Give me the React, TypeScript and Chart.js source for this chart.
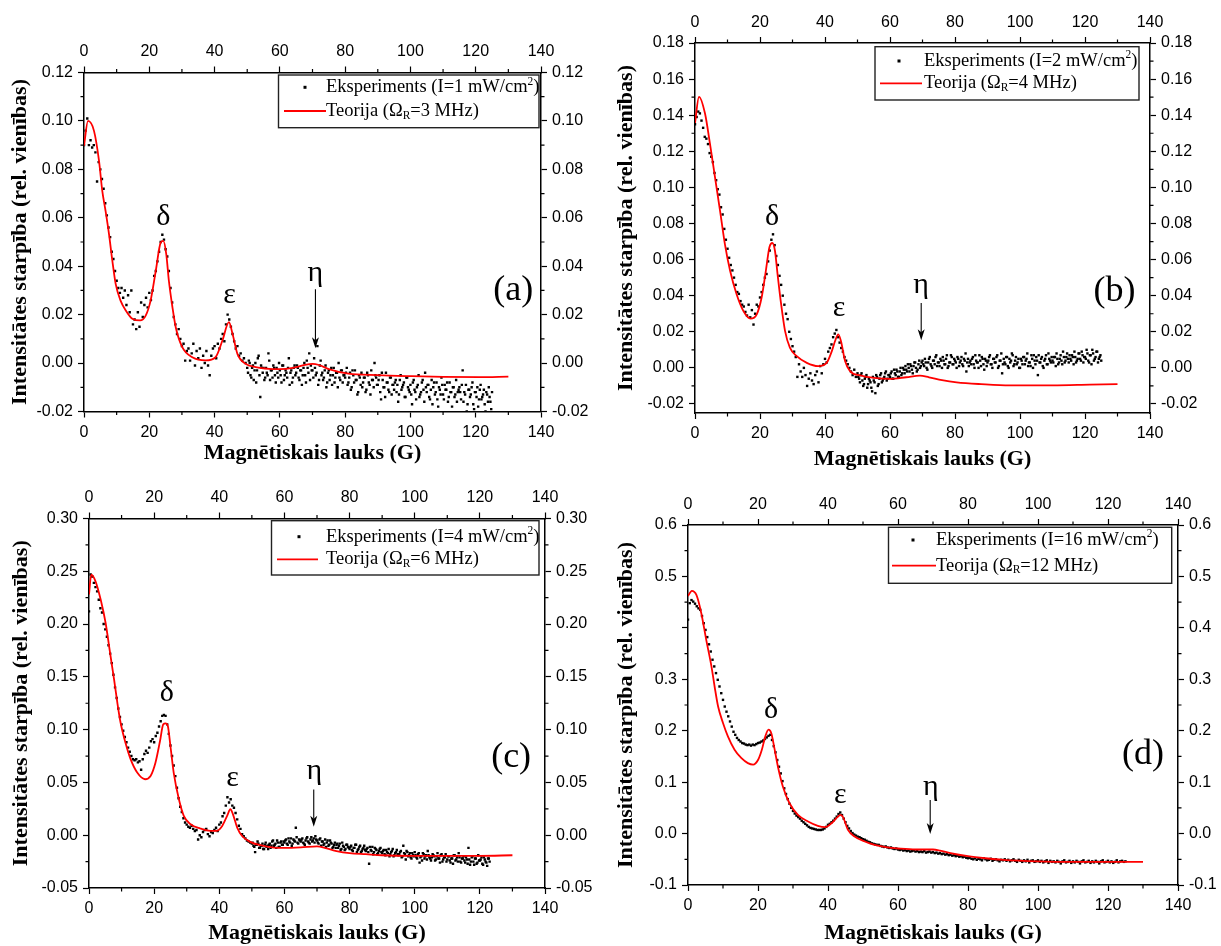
import React, { useEffect, useRef } from "react";
import { Chart, registerables } from "chart.js";

Chart.register(...registerables);

// ---------- shared axis data ----------
const FIELD_STEP = 0.5; // G between successive measured points
const SECOND_START = 50.25; // G of the first point of the interleaved second sweep
const xTickValues = [0, 20, 40, 60, 80, 100, 120, 140];
const xMinorValues = [10, 30, 50, 70, 90, 110, 130];

// ---------- panel (a): I = 1 mW/cm2, values in 1e-3 units ----------
const expA = [
  90, 96, 101, 90, 92, 89, 90, 87, 75, 83,
  80, 76, 72, 66, 61, 56, 52, 46, 43, 38,
  34, 31, 29, 31, 27, 30, 24, 28, 21, 30,
  16, 18, 14, 21, 15, 25, 19, 24, 27, 23,
  29, 26, 30, 36, 38, 42, 46, 50, 53, 51,
  47, 44, 38, 31, 25, 19, 16, 12, 14, 10,
  7, 8, 1, 5, 6, 1, 4, 8, -1, 5,
  2, 6, -2, 3, 0, 5, -1, -5, 3, 6,
  7, 2, 8, 6, 10, 12, 9, 16, 20, 18,
  15, 12, 9, 6, 7, 3, 4, 1, 2, 0,
  -2, 1, -5, -2, -7, 0, -3, 3, -14, -2,
  -2, -6, -4, 4, -7, -3, -1, -5, -2, -6,
  -3, -8, -1, -5, -4, -2, -9, -3, -6, -1,
  -4, -2, -7, -3, -5, 0, -8, -2, 4, -1,
  -3, 2, -5, 7, -7, 1, -4, -6, -1, -8,
  -3, -5, -9, -2, -6, -4, 0, -7, -3, -5,
  -6, -2, -8, -4, -10, -5, -3, -7, -12, -6,
  -4, -8, -6, -11, -5, -9, -3, -7, 0, -6,
  -9, -5, -15, -7, -10, -4, -8, -12, -6, -9,
  -11, -7, -9, -13, -5, -10, -8, -14, -6, -11,
  -9, -17, -7, -12, -10, -5, -13, -8, -11, -4,
  -12, -9, -15, -7, -10, -13, -8, -18, -11, -6,
  -13, -9, -11, -16, -8, -12, -10, -14, -7, -12,
  -10, -15, -3, -12, -9, -17, -11, -13, -8, -19,
  -12, -10, -15, -9, -14, -11, -20, -13, -10, -16,
  -12,
];
const expA2 = [
  -4, 0, -6, -1, -3, -8, 2, -5, -1, -4,
  -7, -2, -5, 1, -3, -6, -2, -8, -4, 0,
  -5, -1, -7, -3, -6, 2, -4, -8, -2, -5,
  -1, -6, -3, -9, -2, -5, 1, -4, -7, -3,
  -6, -2, -4, -9, -1, -5, -7, -3, -10, -4,
  -7, -2, -5, -8, -4, -10, -6, -3, -8, -5,
  -4, -9, -6, -11, -3, -8, -7, -13, -5, -9,
  -10, -6, -12, -4, -8, -13, -7, -10, -5, -9,
  -7, -12, -4, -10, -14, -8, -11, -6, -13, -9,
  -8, -12, -16, -7, -11, -9, -14, -6, -10, -12,
  -13, -8, -11, -15, -9, -14, -12, -7, -16, -10,
  -9, -14, -11, -17, -8, -12, -15, -10, -13, -9,
  -15, -11, -8, -14, -12, -18, -10, -13, -16, -11,
  -12, -9, -16, -13, -20, -11, -14, -10, -17, -12,
  -14, -18, -11, -15, -13, -17, -12, -16, -14, -19,
];
const theoryAx = [0, 1.23, 3.06, 4.6, 5.6, 6.6, 7.66, 8.68, 9.7, 11.2, 12.8, 14.8, 17.2, 18.9, 20.4, 22, 23.5, 24.3, 25.2, 26, 27.1, 28.1, 30.1, 33.2, 37.3, 40.3, 42.4, 44.4, 45.5, 47, 49.5, 52.6, 56.7, 60, 64, 67, 70, 72, 75, 81, 90, 100, 110, 121, 130];
const theoryAy = [0.0897, 0.1, 0.0959, 0.0835, 0.0711, 0.0629, 0.0533, 0.0423, 0.0327, 0.0258, 0.0217, 0.0183, 0.0176, 0.0196, 0.0258, 0.0382, 0.0498, 0.0505, 0.045, 0.034, 0.023, 0.0148, 0.0066, 0.0024, 0.0011, 0.0024, 0.0093, 0.0169, 0.0121, 0.0038, -0.0003, -0.0017, -0.0024, -0.0025, -0.002, -0.001, -0.0003, -0.0008, -0.0025, -0.0044, -0.005, -0.0054, -0.0057, -0.0058, -0.0056];
const yTicksA = [-0.02, 0, 0.02, 0.04, 0.06, 0.08, 0.1, 0.12];
const yMinorA = [-0.01, 0.01, 0.03, 0.05, 0.07, 0.09, 0.11];

// ---------- panel (b): I = 2 mW/cm2 ----------
const expB = [
  135, 139, 142, 141, 137, 133, 128, 127, 124, 119,
  117, 114, 108, 104, 99, 96, 89, 85, 77, 71,
  66, 61, 57, 54, 50, 46, 42, 41, 37, 35,
  34, 31, 29, 35, 28, 32, 24, 30, 35, 34,
  39, 42, 46, 50, 52, 59, 65, 71, 74, 68,
  62, 57, 51, 46, 40, 35, 30, 27, 20, 16,
  12, 9, 6, -5, 2, -2, -5, 0, -4, -10,
  -6, -3, -7, -9, -4, -2, -8, 1, -3, 2,
  5, 3, 9, 11, 13, 17, 19, 21, 17, 14,
  11, 9, 6, 4, 2, 0, -2, -4, -1, -5,
  -3, -6, -4, -7, -9, -5, -11, -6, -8, -13,
  -7, -14, -5, -9, -4, -8, -6, -3, -7, -4,
  -5, -2, -6, -3, -1, -5, -2, -4, 0, -3,
  -1, 2, -2, 1, -3, 3, 0, -1, 4, 1,
  4, 1, 3, -1, 5, 2, 0, 4, 6, 1,
  3, 5, 0, 4, 2, 7, 1, 3, 6, 2,
  4, 0, 5, 3, 6, 1, 4, -2, 5, 3,
  2, 6, 0, 4, 3, 7, 1, 5, -1, 4,
  3, 6, 2, 0, 5, 3, 7, 1, 4, -3,
  5, 2, 6, 0, 3, 8, 1, 4, 2, 5,
  0, 4, 6, 2, 5, 1, 3, 7, 0, 4,
  6, -4, 3, 5, 1, 4, 7, 2, 5, 3,
  4, 6, 1, 5, 3, 7, 2, 6, 4, 8,
  3, 5, 7, 2, 6, 4, 8, 5, 9, 3,
  6, 10, 4, 7, 2, 8, 5, 9, 3, 6,
  4,
];
const expB2 = [
  -5, -8, -3, -10, -6, -4, -9, -7, -11, -5,
  -8, -4, -10, -6, -3, -7, -5, -2, -6, -4,
  -3, -6, -1, -4, -2, -5, 0, -3, -1, 1,
  -2, 0, 2, -1, 1, 3, -2, 2, 0, 3,
  2, 5, 0, 3, 6, 1, 4, 2, 7, 3,
  1, 4, 6, 2, 5, 0, 3, 7, 2, 5,
  3, 6, 1, 4, 2, 5, 8, 3, 1, 4,
  5, 2, 7, 3, 0, 4, 6, 2, 5, 1,
  4, 7, 2, 5, 3, 6, 0, 4, 8, 2,
  3, 6, 1, 5, 4, 7, 2, 6, 3, 0,
  5, 2, 6, 4, 8, 3, 1, 5, 7, 2,
  4, 7, 3, 6, 0, 5, 2, 8, 4, 6,
  3, 6, 8, 2, 5, 4, 9, 3, 6, 5,
  7, 4, 6, 9, 3, 5, 8, 4, 7, 6,
  5, 8, 3, 7, 10, 4, 6, 9, 5, 7,
];
const theoryBx = [0, 1.23, 3.08, 4.6, 6.15, 7.7, 9.2, 10.8, 12.8, 14.9, 17.1, 19, 20.5, 21.8, 22.9, 23.8, 24.6, 25.4, 26.5, 27.7, 29.2, 31.3, 34.4, 37.9, 40.5, 42.1, 43.1, 44.1, 44.9, 46.2, 47.7, 50.8, 55, 60, 65, 69.2, 72, 76, 80.5, 88, 96.9, 110, 121.5, 130];
const theoryBy = [0.1357, 0.1502, 0.1409, 0.1242, 0.1057, 0.0871, 0.0686, 0.0538, 0.0408, 0.0315, 0.0273, 0.0297, 0.039, 0.0538, 0.0668, 0.0692, 0.0649, 0.052, 0.0353, 0.0205, 0.0112, 0.0065, 0.0028, 0.001, 0.0028, 0.0093, 0.0149, 0.0186, 0.0149, 0.0037, -0.0018, -0.0042, -0.0055, -0.0061, -0.0052, -0.0043, -0.0052, -0.0068, -0.008, -0.009, -0.0097, -0.0097, -0.0093, -0.009];
const yTicksB = [-0.02, 0, 0.02, 0.04, 0.06, 0.08, 0.1, 0.12, 0.14, 0.16, 0.18];
const yMinorB = [-0.01, 0.01, 0.03, 0.05, 0.07, 0.09, 0.11, 0.13, 0.15, 0.17];

// ---------- panel (c): I = 4 mW/cm2 ----------
const expC = [
  212, 247, 245, 239, 235, 231, 223, 215, 211, 200,
  195, 188, 180, 172, 163, 152, 140, 130, 120, 112,
  105, 99, 93, 88, 83, 79, 75, 72, 71, 72,
  69, 70, 62, 72, 77, 80, 78, 83, 89, 91,
  88, 94, 97, 103, 108, 113, 114, 113, 105, 96,
  85, 75, 66, 56, 45, 35, 27, 22, 16, 12,
  10, 8, 7, 9, 6, 4, 5, -4, 0, -2,
  3, 5, 6, 1, -1, 3, 2, 5, 7, 4,
  10, 12, 18, 21, 28, 36, 31, 34, 28, 26,
  21, 15, 9, 6, 1, -1, -3, -5, -6, -7,
  -8, -10, -16, -9, -8, -12, -10, -13, -9, -11,
  -13, -8, -10, -5, -9, -12, -7, -11, -6, -9,
  -7, -4, -9, -6, -3, -8, -5, 7, -7, -4,
  -6, -3, -8, -5, -2, -7, -4, -6, -3, -1,
  -5, -8, -3, -6, -9, -4, -7, -10, -5, -8,
  -11, -7, -9, -12, -8, -13, -10, -14, -9, -11,
  -13, -10, -15, -12, -9, -14, -11, -16, -13, -10,
  -15, -12, -27, -14, -11, -16, -13, -18, -15, -12,
  -17, -14, -19, -16, -13, -18, -15, -20, -17, -14,
  -19, -16, -21, -10, -18, -15, -20, -17, -22, -19,
  -16, -21, -18, -26, -20, -17, -22, -19, -15, -21,
  -24, -18, -20, -23, -17, -22, -19, -25, -21, -18,
  -23, -20, -26, -22, -19, -24, -21, -17, -25, -22,
  -20, -26, -23, -12, -28, -21, -25, -22, -27, -19,
  -24, -21, -28, -23, -26, -22, -25,
];
const expC2 = [
  -7, -11, -9, -6, -12, -10, -8, -13, -7, -10,
  -9, -12, -6, -10, -8, -5, -11, -7, -9, -6,
  -5, -8, -3, -7, -10, -4, -6, -2, -8, -5,
  -4, -7, -9, -3, -6, -8, -2, -5, -7, -4,
  -7, -4, -10, -6, -8, -11, -5, -9, -7, -12,
  -9, -12, -8, -10, -14, -7, -11, -13, -9, -12,
  -11, -14, -12, -9, -16, -13, -10, -15, -12, -14,
  -13, -16, -11, -15, -18, -12, -14, -17, -13, -16,
  -15, -18, -14, -17, -20, -16, -13, -19, -16, -18,
  -18, -15, -20, -17, -23, -16, -19, -21, -17, -20,
  -19, -22, -17, -21, -24, -18, -20, -23, -19, -22,
  -21, -19, -24, -20, -22, -26, -18, -23, -21, -25,
  -20, -24, -22, -27, -19, -23, -25, -21, -26, -22,
  -24, -21, -27, -23, -25, -20, -28, -22, -26, -24,
  -23, -27, -21, -25, -29, -22,
];
const theoryCx = [0, 0.7, 2, 3.6, 5.1, 6.6, 7.7, 8.7, 9.7, 11.2, 12.8, 14.8, 17.2, 18.9, 20.4, 21.8, 22.8, 23.5, 24.2, 25, 26, 27.6, 29.1, 31.2, 34.2, 37.3, 39.1, 40.9, 42.4, 43.4, 44.2, 45.5, 47, 49.5, 52.6, 56.7, 60, 65, 70, 73, 76, 80, 85, 90, 100, 110, 120, 130];
const theoryCy = [0.228, 0.2468, 0.2405, 0.223, 0.201, 0.17, 0.1475, 0.1255, 0.1065, 0.0876, 0.0718, 0.0593, 0.053, 0.0561, 0.0687, 0.0892, 0.105, 0.1059, 0.1034, 0.0845, 0.0593, 0.034, 0.0183, 0.0104, 0.0063, 0.0041, 0.0041, 0.0088, 0.0183, 0.0246, 0.0198, 0.0072, -0.0007, -0.0063, -0.0095, -0.0117, -0.012, -0.0115, -0.0105, -0.0125, -0.015, -0.017, -0.018, -0.019, -0.0195, -0.0195, -0.0195, -0.019];
const yTicksC = [-0.05, 0, 0.05, 0.1, 0.15, 0.2, 0.25, 0.3];
const yMinorC = [-0.025, 0.025, 0.075, 0.125, 0.175, 0.225, 0.275];

// ---------- panel (d): I = 16 mW/cm2 ----------
const expD = [
  416, 448, 454, 451, 447, 442, 438, 435, 423, 409,
  396, 382, 368, 354, 338, 325, 312, 299, 286, 273,
  260, 247, 237, 228, 218, 208, 198, 192, 186, 182,
  179, 176, 175, 173, 172, 173, 171, 173, 172, 174,
  176, 177, 179, 181, 184, 187, 190, 192, 182, 170,
  158, 143, 130, 117, 102, 88, 77, 67, 58, 50,
  44, 39, 35, 32, 29, 25, 22, 19, 16, 13,
  11, 10, 9, 8, 7, 7, 7, 8, 10, 13,
  17, 19, 22, 25, 29, 33, 38, 41, 36, 29,
  22, 15, 10, 5, 1, -2, -4, -6, -7, -9,
  -11, -12, -14, -16, -17, -19, -20, -21, -22, -22,
  -24, -25, -26, -25, -27, -28, -27, -29, -30, -29,
  -31, -32, -31, -33, -32, -34, -33, -35, -34, -33,
  -35, -34, -36, -35, -36, -34, -37, -36, -35, -37,
  -36, -38, -37, -39, -38, -40, -39, -41, -40, -42,
  -41, -43, -42, -44, -43, -45, -44, -46, -45, -47,
  -48, -47, -49, -50, -48, -51, -49, -50, -52, -48,
  -50, -52, -51, -49, -53, -51, -50, -52, -54, -51,
  -52, -50, -53, -51, -54, -52, -50, -53, -55, -51,
  -53, -55, -52, -54, -51, -56, -53, -52, -55, -54,
  -52, -55, -53, -56, -54, -52, -57, -53, -55, -54,
  -56, -53, -55, -58, -54, -52, -56, -55, -53, -57,
  -54, -56, -53, -55, -58, -54, -52, -56, -55, -53,
  -57, -54, -56, -53, -55, -58, -54, -52, -56, -55,
  -53, -56, -54, -57, -55, -52, -56, -54, -53, -55,
  -54,
];
const expD2: number[] = [];
const theoryDx = [0, 1.1, 2.4, 3.8, 5.2, 6.7, 7.6, 8.6, 10, 11.4, 13.3, 15.2, 17.1, 18.6, 20, 21.1, 22.1, 23, 23.8, 24.6, 25.7, 27.1, 29, 31.4, 34.3, 37.1, 39.2, 41, 42.7, 43.6, 44.3, 45.7, 47.6, 50.5, 53.3, 57, 60, 65, 70, 72, 75, 80, 85, 90, 100, 110, 120, 130];
const theoryDy = [0.462, 0.472, 0.464, 0.4285, 0.377, 0.325, 0.286, 0.247, 0.215, 0.189, 0.163, 0.147, 0.137, 0.134, 0.143, 0.163, 0.189, 0.202, 0.195, 0.169, 0.13, 0.0915, 0.059, 0.0365, 0.0235, 0.015, 0.0125, 0.02, 0.032, 0.0365, 0.032, 0.0073, -0.0057, -0.0154, -0.022, -0.027, -0.029, -0.031, -0.031, -0.033, -0.038, -0.044, -0.048, -0.051, -0.054, -0.055, -0.055, -0.055];
const yTicksD = [-0.1, 0, 0.1, 0.2, 0.3, 0.4, 0.5, 0.6];
const yMinorD = [-0.05, 0.05, 0.15, 0.25, 0.35, 0.45, 0.55];
const yHiddenLeftD = [0.4];

// ---------- texts ----------
const Y_TITLE = "Intensitātes starpība (rel. vienības)";
const X_TITLE = "Magnētiskais lauks (G)";

type Seg = { t: string; sup?: boolean; sub?: boolean };
const expLegend = (i: string): Seg[] => [{ t: `Eksperiments (I=${i} mW/cm` }, { t: "2", sup: true }, { t: ")" }];
const thLegend = (o: string): Seg[] => [{ t: "Teorija (Ω" }, { t: "R", sub: true }, { t: `=${o} MHz)` }];

const SERIF = '"Liberation Serif", "Times New Roman", serif';
const SANS = '"Liberation Sans", Arial, sans-serif';

const panels = [
  {
    id: "a", tag: "(a)", exp: expA, exp2: expA2, thx: theoryAx, thy: theoryAy,
    yMin: -0.02, yMax: 0.12, yTicks: yTicksA, yMinor: yMinorA, dec: 2, hiddenLeft: [] as number[],
    leg1: expLegend("1"), leg2: thLegend("3"),
    marks: [{ t: "δ", x: 24.3, y: 0.057 }, { t: "ε", x: 44.6, y: 0.025 }, { t: "η", x: 70.9, y: 0.034 }],
    arrow: { x: 70.9, y0: 0.0305, y1: 0.0061 }, tagPos: { x: 131.5, y: 0.0262 },
    box: { x: 0, y: 0, w: 610, h: 470 }, axes: { l: 84, r: 69, t: 72.5, b: 58.5 }, yTitlePad: 9, xTitlePad: 6,
    legend: { w: 260.5, h: 52.7, rightGap: 2, topGap: 2.5, dotX: 26.5, textX: 47.5, row1: 12.3, row2: 36, lineX0: 5.5, lineX1: 47.5 },
  },
  {
    id: "b", tag: "(b)", exp: expB, exp2: expB2, thx: theoryBx, thy: theoryBy,
    yMin: -0.025, yMax: 0.18, yTicks: yTicksB, yMinor: yMinorB, dec: 2, hiddenLeft: [] as number[],
    leg1: expLegend("2"), leg2: thLegend("4"),
    marks: [{ t: "δ", x: 23.7, y: 0.0793 }, { t: "ε", x: 44.3, y: 0.0286 }, { t: "η", x: 69.6, y: 0.0416 }],
    arrow: { x: 69.6, y0: 0.036, y1: 0.0153 }, tagPos: { x: 129.1, y: 0.0373 },
    box: { x: 610, y: 0, w: 611, h: 470 }, axes: { l: 85, r: 71, t: 43, b: 57 }, yTitlePad: 5, xTitlePad: 0,
    legend: { w: 264, h: 53.3, rightGap: 11, topGap: 3.7, dotX: 24, textX: 49, row1: 14.3, row2: 36.6, lineX0: 5, lineX1: 47 },
  },
  {
    id: "c", tag: "(c)", exp: expC, exp2: expC2, thx: theoryCx, thy: theoryCy,
    yMin: -0.05, yMax: 0.3, yTicks: yTicksC, yMinor: yMinorC, dec: 2, hiddenLeft: [] as number[],
    leg1: expLegend("4"), leg2: thLegend("6"),
    marks: [{ t: "δ", x: 23.9, y: 0.127 }, { t: "ε", x: 44.1, y: 0.0465 }, { t: "η", x: 69.2, y: 0.0528 }],
    arrow: { x: 69.0, y0: 0.0434, y1: 0.0081 }, tagPos: { x: 129.6, y: 0.0642 },
    box: { x: 0, y: 470, w: 610, h: 476 }, axes: { l: 89, r: 65, t: 48.5, b: 58 }, yTitlePad: 10, xTitlePad: 2,
    legend: { w: 267.5, h: 54.3, rightGap: 6, topGap: 2.2, dotX: 27.5, textX: 54.5, row1: 16, row2: 38.6, lineX0: 5.5, lineX1: 46.5 },
  },
  {
    id: "d", tag: "(d)", exp: expD, exp2: expD2, thx: theoryDx, thy: theoryDy,
    yMin: -0.1, yMax: 0.6, yTicks: yTicksD, yMinor: yMinorD, dec: 1, hiddenLeft: yHiddenLeftD,
    leg1: expLegend("16"), leg2: thLegend("12"),
    marks: [{ t: "δ", x: 23.7, y: 0.224 }, { t: "ε", x: 43.5, y: 0.0589 }, { t: "η", x: 69.4, y: 0.075 }],
    arrow: { x: 69.2, y0: 0.0653, y1: -0.0008 }, tagPos: { x: 130, y: 0.135 },
    box: { x: 610, y: 470, w: 611, h: 476 }, axes: { l: 78, r: 43, t: 55, b: 61 }, yTitlePad: 5, xTitlePad: 2,
    legend: { w: 283.2, h: 56, rightGap: 6.3, topGap: 2.3, dotX: 24.5, textX: 47.5, row1: 12.7, row2: 38.4, lineX0: 3.5, lineX1: 47.5 },
  },
];

type Panel = (typeof panels)[number];

function drawRich(ctx: CanvasRenderingContext2D, segs: Seg[], x: number, y: number, size: number) {
  let cx = x;
  for (const s of segs) {
    const fs = s.sup || s.sub ? size * 0.62 : size;
    ctx.font = `${fs}px ${SERIF}`;
    const dy = s.sup ? -size * 0.3 : s.sub ? size * 0.25 : 0;
    ctx.fillText(s.t, cx, y + dy);
    cx += ctx.measureText(s.t).width;
  }
}

function makeDecor(p: Panel) {
  return {
    id: "decor_" + p.id,
    afterDraw(chart: any) {
      const ctx: CanvasRenderingContext2D = chart.ctx;
      const { left, right, top, bottom } = chart.chartArea;
      const xs = chart.scales.x;
      const ys = chart.scales.y;
      ctx.save();
      // minor ticks
      ctx.strokeStyle = "#000";
      ctx.lineWidth = 1.2;
      ctx.beginPath();
      for (const v of xMinorValues) {
        const px = xs.getPixelForValue(v);
        ctx.moveTo(px, bottom);
        ctx.lineTo(px, bottom + 3.5);
        ctx.moveTo(px, top);
        ctx.lineTo(px, top - 3.5);
      }
      for (const v of p.yMinor) {
        const py = ys.getPixelForValue(v);
        ctx.moveTo(left, py);
        ctx.lineTo(left - 3.5, py);
        ctx.moveTo(right, py);
        ctx.lineTo(right + 3.5, py);
      }
      ctx.stroke();

      // legend
      const L = p.legend;
      const bx = right - L.rightGap - L.w;
      const by = top + L.topGap;
      ctx.fillStyle = "#fff";
      ctx.fillRect(bx, by, L.w, L.h);
      ctx.strokeStyle = "#222";
      ctx.lineWidth = 1.4;
      ctx.strokeRect(bx, by, L.w, L.h);
      ctx.fillStyle = "#000";
      ctx.fillRect(bx + L.dotX - 1.5, by + L.row1 - 1.5, 3, 3);
      ctx.strokeStyle = "#ff0000";
      ctx.lineWidth = 1.8;
      ctx.beginPath();
      ctx.moveTo(bx + L.lineX0, by + L.row2);
      ctx.lineTo(bx + L.lineX1, by + L.row2);
      ctx.stroke();
      ctx.fillStyle = "#000";
      ctx.textAlign = "left";
      ctx.textBaseline = "middle";
      drawRich(ctx, p.leg1, bx + L.textX, by + L.row1, 18.5);
      drawRich(ctx, p.leg2, bx + L.textX, by + L.row2, 18.5);

      // peak labels
      ctx.textAlign = "center";
      ctx.textBaseline = "alphabetic";
      ctx.font = `30px ${SERIF}`;
      for (const m of p.marks) ctx.fillText(m.t, xs.getPixelForValue(m.x), ys.getPixelForValue(m.y));

      // arrow
      const ax = xs.getPixelForValue(p.arrow.x);
      const ay0 = ys.getPixelForValue(p.arrow.y0);
      const ay1 = ys.getPixelForValue(p.arrow.y1);
      ctx.strokeStyle = "#000";
      ctx.lineWidth = 1.1;
      ctx.beginPath();
      ctx.moveTo(ax, ay0);
      ctx.lineTo(ax, ay1 - 8);
      ctx.stroke();
      ctx.beginPath();
      ctx.moveTo(ax, ay1);
      ctx.lineTo(ax - 3.5, ay1 - 11);
      ctx.lineTo(ax, ay1 - 8);
      ctx.lineTo(ax + 3.5, ay1 - 11);
      ctx.closePath();
      ctx.fill();

      // panel tag
      ctx.font = `36px ${SERIF}`;
      ctx.fillText(p.tag, xs.getPixelForValue(p.tagPos.x), ys.getPixelForValue(p.tagPos.y));
      ctx.restore();
    },
  };
}

const tickFont = { family: SANS, size: 16 };
const titleFont = { family: SERIF, size: 22, weight: "bold" as const, lineHeight: 1 };
const gridOpts = { display: true, drawOnChartArea: false, drawTicks: true, tickLength: 6, tickWidth: 1.2, tickColor: "#000", color: "#000" };
const borderOpts = { display: true, color: "#000", width: 1.5 };

function xAxis(p: Panel, position: "top" | "bottom") {
  const size = position === "bottom" ? p.axes.b : p.axes.t;
  return {
    type: "linear",
    position,
    min: 0,
    max: 140,
    afterBuildTicks: (s: any) => {
      s.ticks = xTickValues.map((value) => ({ value }));
    },
    afterFit: (s: any) => {
      s.height = size;
    },
    grid: gridOpts,
    border: borderOpts,
    ticks: { font: tickFont, color: "#000", padding: 5, maxRotation: 0, autoSkip: false, callback: (v: any) => String(v) },
    title:
      position === "bottom"
        ? { display: true, text: X_TITLE, font: titleFont, color: "#000", padding: { top: 0, bottom: p.xTitlePad } }
        : { display: false },
  };
}

function yAxis(p: Panel, position: "left" | "right") {
  const size = position === "left" ? p.axes.l : p.axes.r;
  return {
    type: "linear",
    position,
    min: p.yMin,
    max: p.yMax,
    afterBuildTicks: (s: any) => {
      s.ticks = p.yTicks.map((value) => ({ value }));
    },
    afterFit: (s: any) => {
      s.width = size;
    },
    grid: gridOpts,
    border: borderOpts,
    ticks: {
      font: tickFont,
      color: "#000",
      padding: 5,
      autoSkip: false,
      callback: (v: any) => {
        const n = Number(v);
        if (position === "left" && p.hiddenLeft.some((h) => Math.abs(h - n) < 1e-9)) return "";
        return n.toFixed(p.dec);
      },
    },
    title:
      position === "left"
        ? { display: true, text: Y_TITLE, font: titleFont, color: "#000", padding: { top: p.yTitlePad, bottom: 0 } }
        : { display: false },
  };
}

function buildConfig(p: Panel): any {
  const expPoints = p.exp
    .map((v, i) => ({ x: i * FIELD_STEP, y: v / 1000 }))
    .concat(p.exp2.map((v, i) => ({ x: SECOND_START + i * FIELD_STEP, y: v / 1000 })));
  const thPoints = p.thx.map((x, i) => ({ x, y: p.thy[i] }));
  return {
    type: "scatter",
    data: {
      datasets: [
        {
          label: "Teorija",
          data: thPoints,
          showLine: true,
          borderColor: "#ff0000",
          borderWidth: 1.8,
          pointRadius: 0,
          fill: false,
          cubicInterpolationMode: "monotone",
          order: 0,
        },
        {
          label: "Eksperiments",
          data: expPoints,
          showLine: false,
          pointStyle: "rect",
          pointRadius: 1.7,
          borderWidth: 0,
          backgroundColor: "#000",
          order: 1,
        },
      ],
    },
    options: {
      responsive: false,
      animation: false,
      devicePixelRatio: 1,
      events: [],
      layout: { padding: 0 },
      plugins: { legend: { display: false }, tooltip: { enabled: false } },
      scales: {
        x: xAxis(p, "bottom"),
        x2: xAxis(p, "top"),
        y: yAxis(p, "left"),
        y2: yAxis(p, "right"),
      },
    },
    plugins: [makeDecor(p)],
  };
}

function PanelChart({ p }: { p: Panel }) {
  const ref = useRef<HTMLCanvasElement | null>(null);
  useEffect(() => {
    if (!ref.current) return;
    const chart = new Chart(ref.current, buildConfig(p));
    return () => chart.destroy();
  }, [p]);
  return (
    <canvas
      ref={ref}
      width={p.box.w}
      height={p.box.h}
      style={{ position: "absolute", left: p.box.x, top: p.box.y, width: p.box.w, height: p.box.h }}
    />
  );
}

export default function App() {
  return (
    <div style={{ position: "absolute", left: 0, top: 0, width: 1221, height: 946, background: "#fff", overflow: "hidden" }}>
      {panels.map((p) => (
        <PanelChart key={p.id} p={p} />
      ))}
    </div>
  );
}
